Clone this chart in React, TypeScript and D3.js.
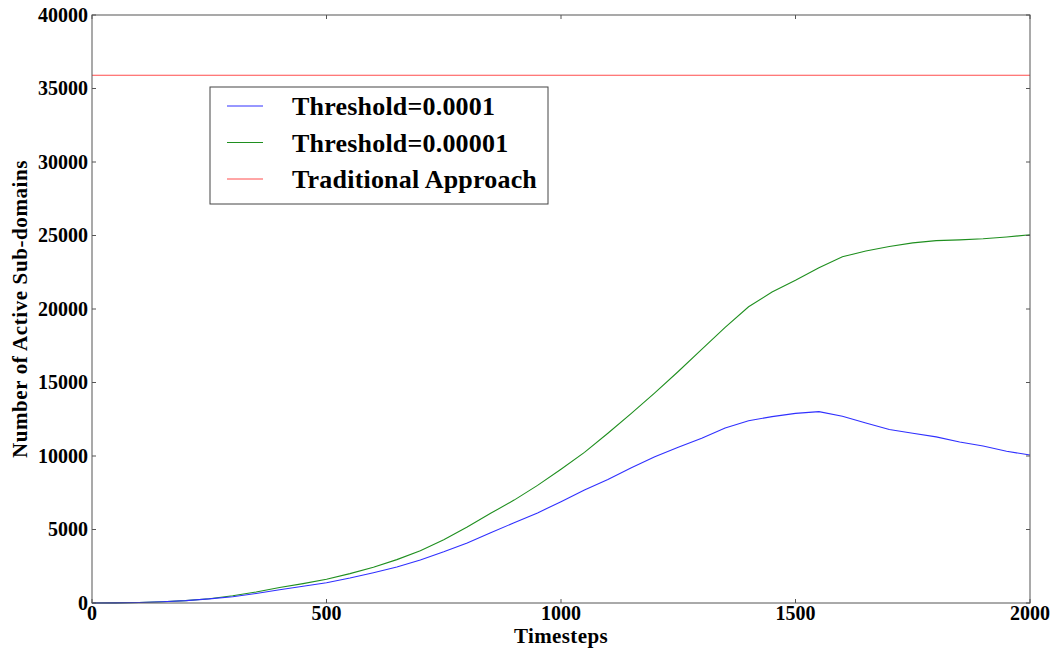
import React, { useEffect, useRef } from "react";
import * as d3 from "d3";

// timesteps
const timesteps = [
  0, 50, 100, 150, 200, 250, 300, 350, 400, 450, 500, 550, 600, 650, 700, 750,
  800, 850, 900, 950, 1000, 1050, 1100, 1150, 1200, 1250, 1300, 1350, 1400,
  1450, 1500, 1550, 1600, 1650, 1700, 1750, 1800, 1850, 1900, 1950, 2000,
];

const threshold0001 = [
  0, 10, 30, 80, 160, 280, 430, 650, 900, 1140, 1380, 1700, 2060, 2450, 2930,
  3480, 4080, 4780, 5460, 6130, 6890, 7690, 8400, 9200, 9950, 10600, 11200,
  11900, 12400, 12680, 12900, 13020, 12700, 12250, 11800, 11550, 11300, 10950,
  10680, 10320, 10070,
];

const threshold00001 = [
  0, 10, 30, 80, 160, 290, 490, 750, 1050, 1320, 1620, 2000, 2430, 2950, 3550,
  4300, 5170, 6100, 7000, 8000, 9100, 10250, 11550, 12900, 14300, 15750, 17250,
  18750, 20150, 21150, 21950, 22800, 23550, 23950, 24250, 24500, 24650, 24700,
  24780, 24900, 25050,
];

const traditional = 35900;

const xTicks = [0, 500, 1000, 1500, 2000];
const yTicks = [0, 5000, 10000, 15000, 20000, 25000, 30000, 35000, 40000];

const seriesNames = ["Threshold=0.0001", "Threshold=0.00001", "Traditional Approach"];
const seriesColors = ["#3030ff", "#1f8f1f", "#ff4c4c"];

export default function App() {
  const ref = useRef<SVGSVGElement>(null);

  useEffect(() => {
    const svg = d3.select(ref.current);
    svg.selectAll("*").remove();

    const width = 1053;
    const height = 650;
    const margin = { top: 15, right: 23, bottom: 47, left: 92 };
    const font = "'Liberation Serif', 'Times New Roman', serif";

    const x = d3
      .scaleLinear()
      .domain([0, 2000])
      .range([margin.left, width - margin.right]);
    const y = d3
      .scaleLinear()
      .domain([0, 40000])
      .range([height - margin.bottom, margin.top]);

    const line = d3
      .line<number>()
      .x((d, i) => x(timesteps[i]))
      .y((d) => y(d));

    // the lines
    svg
      .append("line")
      .attr("x1", x(0))
      .attr("x2", x(2000))
      .attr("y1", y(traditional))
      .attr("y2", y(traditional))
      .attr("stroke", seriesColors[2])
      .attr("stroke-width", 1.2);

    svg
      .append("path")
      .attr("d", line(threshold00001))
      .attr("fill", "none")
      .attr("stroke", seriesColors[1])
      .attr("stroke-width", 1.1);

    svg
      .append("path")
      .attr("d", line(threshold0001))
      .attr("fill", "none")
      .attr("stroke", seriesColors[0])
      .attr("stroke-width", 1.1);

    // axes frame and inward ticks
    const tickLen = 4;
    const frame = svg.append("g").attr("stroke", "#555").attr("stroke-width", 1);
    frame
      .append("rect")
      .attr("x", x(0))
      .attr("y", y(40000))
      .attr("width", x(2000) - x(0))
      .attr("height", y(0) - y(40000))
      .attr("fill", "none");

    xTicks.forEach((t) => {
      frame.append("line").attr("x1", x(t)).attr("x2", x(t)).attr("y1", y(0)).attr("y2", y(0) - tickLen);
      frame.append("line").attr("x1", x(t)).attr("x2", x(t)).attr("y1", y(40000)).attr("y2", y(40000) + tickLen);
    });
    yTicks.forEach((t) => {
      frame.append("line").attr("x1", x(0)).attr("x2", x(0) + tickLen).attr("y1", y(t)).attr("y2", y(t));
      frame.append("line").attr("x1", x(2000)).attr("x2", x(2000) - tickLen).attr("y1", y(t)).attr("y2", y(t));
    });

    const labels = svg
      .append("g")
      .style("font-family", font)
      .style("font-weight", "bold")
      .style("font-size", "20px")
      .attr("fill", "#000");

    labels
      .selectAll(".ytick")
      .data(yTicks)
      .join("text")
      .attr("x", x(0) - 4)
      .attr("y", (d) => y(d))
      .attr("dy", "0.33em")
      .attr("text-anchor", "end")
      .text((d) => d);

    labels
      .selectAll(".xtick")
      .data(xTicks)
      .join("text")
      .attr("x", (d) => x(d))
      .attr("y", y(0) + 17)
      .attr("text-anchor", "middle")
      .text((d) => d);

    labels
      .append("text")
      .attr("x", (x(0) + x(2000)) / 2)
      .attr("y", 643)
      .attr("text-anchor", "middle")
      .style("font-size", "21px")
      .style("letter-spacing", "0.4px")
      .text("Timesteps");

    labels
      .append("text")
      .attr("transform", `translate(27,${(y(0) + y(40000)) / 2}) rotate(-90)`)
      .attr("text-anchor", "middle")
      .style("font-size", "21px")
      .style("letter-spacing", "0.6px")
      .text("Number of Active Sub-domains");

    // legend
    const legend = svg.append("g").attr("transform", "translate(210,87)");
    legend
      .append("rect")
      .attr("width", 338)
      .attr("height", 117)
      .attr("fill", "white")
      .attr("stroke", "#444")
      .attr("stroke-width", 1);

    seriesNames.forEach((name, i) => {
      const g = legend.append("g").attr("transform", `translate(0,${19 + i * 36.5})`);
      g.append("line")
        .attr("x1", 17)
        .attr("x2", 53)
        .attr("stroke", seriesColors[i])
        .attr("stroke-width", 1);
      g.append("text")
        .attr("x", 82)
        .attr("dy", "0.35em")
        .style("font-family", font)
        .style("font-weight", "bold")
        .style("font-size", "26px")
        .style("letter-spacing", "0.2px")
        .text(name);
    });
  }, []);

  return (
    <svg
      ref={ref}
      width={1053}
      height={650}
      style={{ position: "absolute", left: 0, top: 0, background: "white" }}
    />
  );
}
